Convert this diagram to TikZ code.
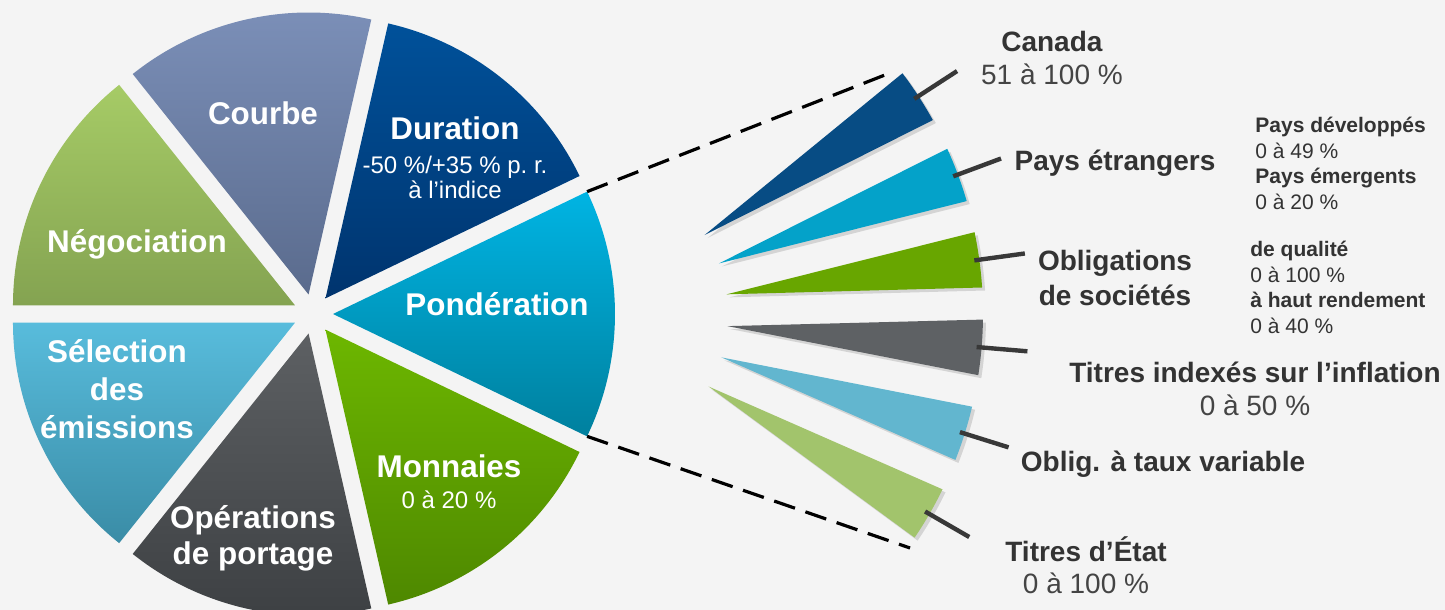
\documentclass[tikz,border=0pt]{standalone}
\usepackage{fontspec}
\setmainfont{Liberation Sans}
\usetikzlibrary{calc}
\definecolor{bg}{HTML}{F4F4F4}
\definecolor{txt}{HTML}{333333}
\definecolor{txtr}{HTML}{444444}
\definecolor{lead}{HTML}{383838}
\definecolor{pondT}{HTML}{00B4E3}\definecolor{pondB}{HTML}{00809E}
\definecolor{durT}{HTML}{00519A}\definecolor{durB}{HTML}{00346E}
\definecolor{courT}{HTML}{7C90B9}\definecolor{courB}{HTML}{5A6B8D}
\definecolor{negT}{HTML}{A6CB66}\definecolor{negB}{HTML}{84A351}
\definecolor{selT}{HTML}{58BCDC}\definecolor{selB}{HTML}{3A8CA6}
\definecolor{opeT}{HTML}{5D6063}\definecolor{opeB}{HTML}{3C3F42}
\definecolor{monT}{HTML}{6DB700}\definecolor{monB}{HTML}{4E8800}
\definecolor{spA}{HTML}{074C84}
\definecolor{spB}{HTML}{04A2C9}
\definecolor{spC}{HTML}{68A600}
\definecolor{spD}{HTML}{5E6164}
\definecolor{spE}{HTML}{62B6CF}
\definecolor{spF}{HTML}{A2C46C}
\newcommand\pieslice[3]{%
  \shade[top color=#2,bottom color=#3] ($(C)+(#1:20)$) -- ++(#1-25.714:282)
    arc[start angle=#1-25.714, end angle=#1+25.714, radius=282] -- cycle;}
\newcommand\spike[2]{%
  \fill[black,opacity=0.13] ($(F)+(#1:145)+(3,-3)$) -- ($(F)+(#1+4:400)+(3,-3)$)
    arc[start angle=#1+4, end angle=#1-4, radius=400] -- cycle;
  \fill[#2] ($(F)+(#1:145)$) -- ($(F)+(#1+4:400)$)
    arc[start angle=#1+4, end angle=#1-4, radius=400] -- cycle;}
\begin{document}
\begin{tikzpicture}[x=0.5pt,y=0.5pt,
  pielabel/.style={text=white,font=\bfseries\fontsize{15.7}{19}\selectfont,align=center,inner sep=0},
  piesub/.style={text=white,font=\fontsize{12}{12.5}\selectfont,align=center,inner sep=0},
  biglabel/.style={text=txt,font=\bfseries\fontsize{14}{17.5}\selectfont,align=center,inner sep=0},
  smallblock/.style={text=txt,font=\fontsize{10.5}{12.8}\selectfont,align=left,inner sep=0,anchor=west},
  leader/.style={draw=lead,line width=2.2pt},
  zoomline/.style={draw=black,line width=1.6pt,dash pattern=on 11pt off 5.5pt}]
\fill[bg] (0,0) rectangle (1445,610);
\useasboundingbox (0,0) rectangle (1445,610);
\coordinate (C) at (313,296);
\coordinate (F) at (583,296);
% pie slices
\pieslice{0}{pondT}{pondB}
\pieslice{51.428}{durT}{durB}
\pieslice{102.857}{courT}{courB}
\pieslice{154.285}{negT}{negB}
\pieslice{205.714}{selT}{selB}
\pieslice{257.142}{opeT}{opeB}
\pieslice{308.571}{monT}{monB}
% pie labels
\node[pielabel] (courbe) at (263,497) {Courbe};
\node[pielabel] (duration) at (455,482) {Duration};
\node[piesub] (durationsub) at (455,433) {-50 \%/+35 \% p.\ r.\\à l’indice};
\node[pielabel] (nego) at (137,366) {Négociation};
\node[pielabel] (ponde) at (497,306) {Pondération};
\node[pielabel] (select) at (117,221) {Sélection\\des\\émissions};
\node[pielabel] (monnaies) at (449,144) {Monnaies};
\node[piesub] (monnaiessub) at (449,110) {0 à 20 \%};
\node[pielabel,font=\bfseries\fontsize{15.7}{18}\selectfont] (portage) at (253,72) {Opérations\\de portage};
% zoom lines
\coordinate (pt) at ($(C)+(0:20)+(25.714:282)$);
\coordinate (pb) at ($(C)+(0:20)+(-25.714:282)$);
\coordinate (dt) at (890,537);
\coordinate (db) at (910,62);
\draw[zoomline] (pt) -- (dt);
\draw[zoomline] (pb) -- (db);
% spikes
\spike{33}{spA}
\spike{20.4}{spB}
\spike{7.8}{spC}
\spike{-4.8}{spD}
\spike{-17.4}{spE}
\spike{-30}{spF}
% leaders
\foreach \a/\n in {33/1,20.4/2,7.8/3,-4.8/4,-17.4/5,-30/6}{
  \coordinate (la\n) at ($(F)+(\a:395)$);
  \coordinate (lb\n) at ($(F)+(\a:446)$);
}
\draw[leader] (la1) -- (lb1);
\draw[leader] (la2) -- (lb2);
\draw[leader] (la3) -- (lb3);
\draw[leader] (la4) -- (lb4);
\draw[leader] (la5) -- (lb5);
\draw[leader] (la6) -- (lb6);
% right labels
\node[biglabel,font=\fontsize{14}{16.5}\selectfont] (canada) at (1052,551.5) {\textbf{Canada}\\\textcolor{txtr}{51 à 100 \%}};
\node[biglabel] (pays) at (1115,447) {Pays étrangers};
\node[smallblock] (paysdet) at (1255,446.5) {\textbf{Pays développés}\\0 à 49 \%\\\textbf{Pays émergents}\\0 à 20 \%};
\node[biglabel] (oblig) at (1115,332.5) {Obligations\\de sociétés};
\node[smallblock] (obligdet) at (1250,322.5) {\textbf{de qualité}\\0 à 100 \%\\\textbf{à haut rendement}\\0 à 40 \%};
\node[biglabel,font=\fontsize{14}{16.5}\selectfont] (infl) at (1255,221.5) {\textbf{Titres indexés sur l’inflation}\\\textcolor{txtr}{0 à 50 \%}};
\node[biglabel] (taux) at (1163,146) {Oblig. à taux variable};
\node[biglabel,font=\fontsize{14}{16}\selectfont] (etat) at (1086,45) {\textbf{Titres d’État}\\\textcolor{txtr}{0 à 100 \%}};
\end{tikzpicture}
\end{document}
